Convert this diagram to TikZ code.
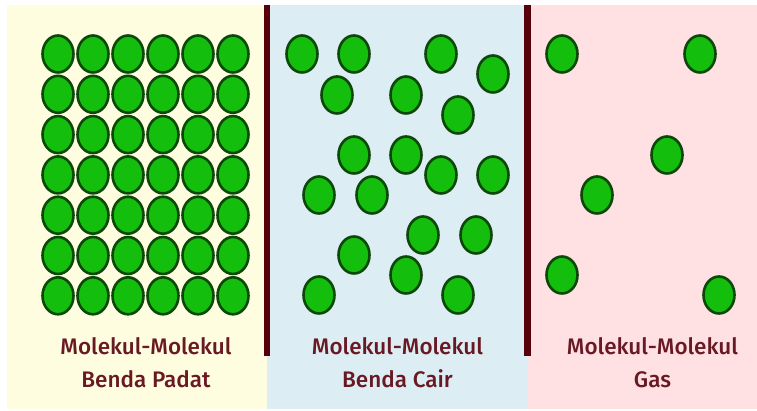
\documentclass[tikz,border=0pt]{standalone}
\usepackage{fontspec}
\setmainfont{Fira Sans}
\newfontfamily\lblfont{Fira Sans}[UprightFont=* Medium]
\definecolor{bgyellow}{RGB}{255,253,224}
\definecolor{bgblue}{RGB}{220,238,244}
\definecolor{bgpink}{RGB}{255,225,227}
\definecolor{divider}{RGB}{85,0,10}
\definecolor{molfill}{RGB}{20,190,12}
\definecolor{moledge}{RGB}{12,72,10}
\definecolor{labelcol}{RGB}{105,25,35}
\tikzset{
  mol/.style={fill=molfill, draw=moledge, line width=2.6pt},
  divline/.style={draw=divider, line width=6.5pt},
  lbl/.style={text=labelcol, font=\lblfont\fontsize{22.5}{33}\selectfont, align=center, inner sep=0pt}
}
\newcommand{\molat}[2]{\path[mol] (#1,#2) ellipse [x radius=15.5pt, y radius=18.5pt];}
\begin{document}
\begin{tikzpicture}[x=1pt,y=-1pt]
\useasboundingbox (0,0) rectangle (757,411);
\fill[white] (0,0) rectangle (757,411);
\fill[bgyellow] (7,5) rectangle (267,409);
\fill[bgblue] (267,5) rectangle (528,409);
\fill[bgpink] (528,5) rectangle (757,409);
% solid
\foreach \r in {0,...,6}{
  \foreach \c in {0,...,5}{
    \pgfmathsetmacro{\cx}{58+35*\c}
    \pgfmathsetmacro{\cy}{54+40.3*\r}
    \molat{\cx}{\cy}
  }
}
% liquid
\foreach \p/\q in {302/54,354/54,441/54,493/74,337/95,406/95,458/115,354/155,406/155,441/175,493/175,319/195,372/195,423/235,476/235,354/255,406/275,319/295,458/295}{
  \molat{\p}{\q}
}
% gas
\foreach \p/\q in {562/54,700/54,667/155,597/195,562/275,719/295}{
  \molat{\p}{\q}
}
% dividers
\coordinate (d1t) at (267,5);
\coordinate (d1b) at (267,356);
\coordinate (d2t) at (527.5,5);
\coordinate (d2b) at (527.5,356);
\draw[divline] (d1t) -- (d1b);
\draw[divline] (d2t) -- (d2b);
% labels
\node[lbl, anchor=base] (l1a) at (146,354) {Molekul-Molekul};
\node[lbl, anchor=base] (l1b) at (146,387) {Benda Padat};
\node[lbl, anchor=base] (l2a) at (397.5,354) {Molekul-Molekul};
\node[lbl, anchor=base] (l2b) at (397.5,387) {Benda Cair};
\node[lbl, anchor=base] (l3a) at (652.5,354) {Molekul-Molekul};
\node[lbl, anchor=base] (l3b) at (652.5,387) {Gas};
\end{tikzpicture}
\end{document}
